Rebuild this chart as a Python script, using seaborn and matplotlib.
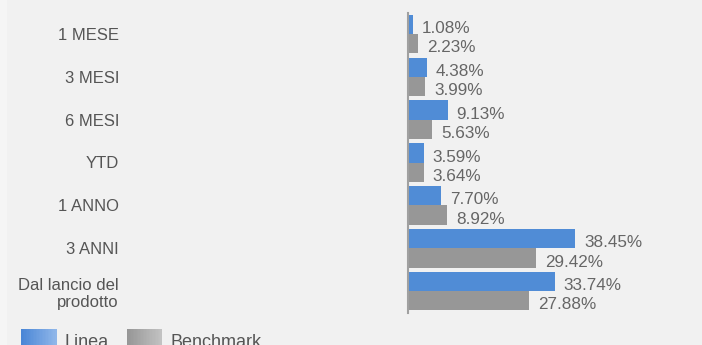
import matplotlib
matplotlib.use("Agg")
import matplotlib.pyplot as plt
from matplotlib.patches import Rectangle, Patch
from matplotlib.legend_handler import HandlerBase
import matplotlib.colors as mcolors
import numpy as np
import pandas as pd
import seaborn as sns

# Performance periods and returns (%)
periods = ["1 MESE", "3 MESI", "6 MESI", "YTD", "1 ANNO", "3 ANNI",
           "Dal lancio del\nprodotto"]
linea = [1.08, 4.38, 9.13, 3.59, 7.70, 38.45, 33.74]
benchmark = [2.23, 3.99, 5.63, 3.64, 8.92, 29.42, 27.88]
series_names = ["Linea", "Benchmark"]

BLUE = "#508cd6"
GREY = "#979797"
BG = "#f1f1f1"

df = pd.DataFrame({
    "periodo": periods * 2,
    "rendimento": linea + benchmark,
    "serie": [series_names[0]] * len(periods) + [series_names[1]] * len(periods),
})

sns.set_theme(style="white")
plt.rcParams["font.family"] = ["Liberation Sans", "DejaVu Sans"]

fig = plt.figure(figsize=(7.02, 3.45), dpi=100)
fig.patch.set_facecolor(BG)
fig.patches.append(Rectangle((0, 0), 7 / 702, 1, transform=fig.transFigure,
                             facecolor="#f5f5f5", edgecolor="none", zorder=0))

W, H = 702, 345
ax = fig.add_axes([408 / W, 1 - 312.5 / H, 261 / W, 300 / H])
ax.set_facecolor(BG)

sns.barplot(data=df, y="periodo", x="rendimento", hue="serie",
            order=periods, hue_order=series_names,
            palette=[BLUE, GREY], width=0.9, orient="h",
            saturation=1, legend=False, linewidth=0, ax=ax)

ax.set_xlim(0, 60)
ax.set_ylim(len(periods) - 0.5, -0.5)
ax.set_xlabel("")
ax.set_ylabel("")
ax.set_xticks([])

for side in ("top", "right", "bottom"):
    ax.spines[side].set_visible(False)
ax.spines["left"].set_color("#a0a0a0")
ax.spines["left"].set_linewidth(1.5)

# category labels end ~289 px left of the axis line
ax.tick_params(axis="y", which="major", length=0, pad=289 * 0.72,
               labelsize=12, labelcolor="#555555")
for lbl in ax.get_yticklabels():
    lbl.set_horizontalalignment("right")
    lbl.set_multialignment("right")
ax.set_yticks(np.arange(-0.5, len(periods), 1.0), minor=True)
ax.tick_params(axis="y", which="minor", length=3, width=1.2,
               direction="inout", color="#666666")

for container in ax.containers:
    texts = ax.bar_label(container, fmt="%.2f%%", padding=6.5,
                         fontsize=12.3, color="#666666")
    for t in texts:
        t.xyann = (6.5, -3)


class GradientHandler(HandlerBase):
    def __init__(self, c_left, c_right, steps=24):
        super().__init__()
        self.c_left = np.array(mcolors.to_rgb(c_left))
        self.c_right = np.array(mcolors.to_rgb(c_right))
        self.steps = steps

    def create_artists(self, legend, orig_handle, xdescent, ydescent,
                       width, height, fontsize, trans):
        artists = []
        step_w = width / self.steps
        for i in range(self.steps):
            f = i / (self.steps - 1)
            c = self.c_left * (1 - f) + self.c_right * f
            artists.append(Rectangle((-xdescent + i * step_w, -ydescent),
                                     step_w * 1.05, height * 1.3,
                                     facecolor=c, edgecolor="none",
                                     transform=trans))
        return artists


h_lin = Patch(label="Linea")
h_ben = Patch(label="Benchmark")
fig.legend(handles=[h_lin, h_ben], labels=series_names,
           handler_map={h_lin: GradientHandler("#4a86d6", "#8fb6e9"),
                        h_ben: GradientHandler("#969696", "#c2c2c2")},
           loc="upper left", bbox_to_anchor=(14 / W, 1 - 326 / H),
           frameon=False, fontsize=13, labelcolor="#555555",
           handlelength=1.95, handleheight=0.9, handletextpad=0.45,
           columnspacing=1.0, ncol=2, borderaxespad=0)

fig.savefig("out.png", dpi=100, facecolor=BG)
